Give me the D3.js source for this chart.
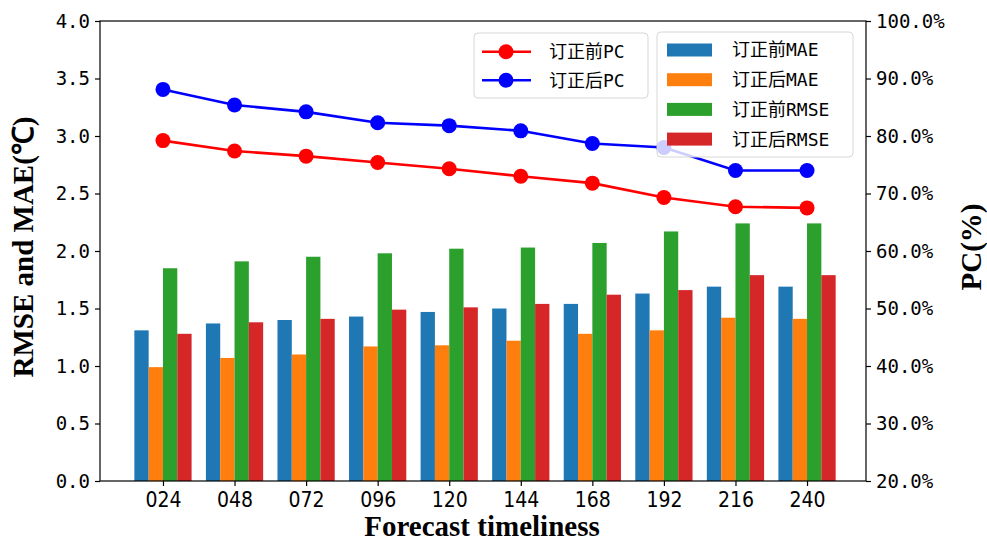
<!DOCTYPE html>
<html>
<head>
<meta charset="utf-8">
<script src="https://cdn.jsdelivr.net/npm/d3@7"></script>
<style>
  body { margin: 0; background: #fff; }
  svg { display: block; }
</style>
</head>
<body>
<div id="chart"></div>
<script>
// Forecast error bars (left axis) + PC lines (right axis)

const leadTimes = ['024', '048', '072', '096', '120', '144', '168', '192', '216', '240'];
const maeBefore = [1.31, 1.37, 1.40, 1.43, 1.47, 1.50, 1.54, 1.63, 1.69, 1.69];
const maeAfter = [0.99, 1.07, 1.10, 1.17, 1.18, 1.22, 1.28, 1.31, 1.42, 1.41];
const rmseBefore = [1.85, 1.91, 1.95, 1.98, 2.02, 2.03, 2.07, 2.17, 2.24, 2.24];
const rmseAfter = [1.28, 1.38, 1.41, 1.49, 1.51, 1.54, 1.62, 1.66, 1.79, 1.79];
const pcBefore = [79.2, 77.4, 76.5, 75.4, 74.3, 73.0, 71.8, 69.3, 67.7, 67.5];
const pcAfter = [88.1, 85.4, 84.2, 82.3, 81.8, 80.9, 78.7, 78.0, 74.0, 74.0];

const leftTicks = [0, 0.5, 1, 1.5, 2, 2.5, 3, 3.5, 4];
const rightTicks = [20, 30, 40, 50, 60, 70, 80, 90, 100];

const barSeries = [
    { name: '订正前MAE', values: maeBefore, color: '#1f77b4' },
    { name: '订正后MAE', values: maeAfter, color: '#ff7f0e' },
    { name: '订正前RMSE', values: rmseBefore, color: '#2ca02c' },
    { name: '订正后RMSE', values: rmseAfter, color: '#d62728' }
];
const lineSeries = [
    { name: '订正前PC', values: pcBefore, color: '#ff0000' },
    { name: '订正后PC', values: pcAfter, color: '#0000ff' }
];

const W = 987, H = 544;
const plot = { left: 100, right: 866, top: 21, bottom: 481 };
const tickFont = '"DejaVu Sans Mono", "Noto Sans CJK SC", monospace';
const titleFont = '"Liberation Serif", "Times New Roman", serif';

const svg = d3.select('#chart').append('svg')
    .attr('width', W)
    .attr('height', H);

// scales
const x = d3.scaleLinear().domain([-0.88, 9.824]).range([plot.left, plot.right]);
const yL = d3.scaleLinear().domain([0, 4]).range([plot.bottom, plot.top]);
const yR = d3.scaleLinear().domain([20, 100]).range([plot.bottom, plot.top]);

const barW = x(0.2) - x(0);
const offsets = [-0.3, -0.1, 0.1, 0.3];

// bars
barSeries.forEach((s, k) => {
    svg.append('g')
        .attr('fill', s.color)
        .selectAll('rect')
        .data(s.values)
        .enter()
        .append('rect')
        .attr('x', (d, i) => x(i + offsets[k]) - barW / 2)
        .attr('y', d => yL(d))
        .attr('width', barW)
        .attr('height', d => yL(0) - yL(d));
});

// lines
const line = d3.line()
    .x((d, i) => x(i))
    .y(d => yR(d));

lineSeries.forEach(s => {
    svg.append('path')
        .datum(s.values)
        .attr('fill', 'none')
        .attr('stroke', s.color)
        .attr('stroke-width', 2.6)
        .attr('d', line);
    svg.append('g')
        .selectAll('circle')
        .data(s.values)
        .enter()
        .append('circle')
        .attr('cx', (d, i) => x(i))
        .attr('cy', d => yR(d))
        .attr('r', 7.5)
        .attr('fill', s.color);
});

// axes
const leftAxis = svg.append('g')
    .attr('transform', `translate(${plot.left},0)`)
    .call(d3.axisLeft(yL).tickValues(leftTicks).tickFormat(d3.format('.1f')).tickSize(5).tickPadding(5));

const rightAxis = svg.append('g')
    .attr('transform', `translate(${plot.right},0)`)
    .call(d3.axisRight(yR).tickValues(rightTicks).tickFormat(d => d3.format('.1f')(d) + '%').tickSize(5).tickPadding(5));

const bottomAxis = svg.append('g')
    .attr('transform', `translate(0,${plot.bottom})`)
    .call(d3.axisBottom(x).tickValues(d3.range(leadTimes.length)).tickFormat(i => leadTimes[i]).tickSize(5).tickPadding(6));

[leftAxis, rightAxis, bottomAxis].forEach(a => {
    a.select('.domain').remove();
    a.selectAll('.tick line').attr('stroke', '#000').attr('stroke-width', 1.2);
});
leftAxis.selectAll('text').style('font-family', tickFont).style('font-size', '19px').attr('fill', '#000');
rightAxis.selectAll('text').style('font-family', tickFont).style('font-size', '19px').attr('fill', '#000');
bottomAxis.selectAll('text')
    .style('font-family', '"Liberation Sans Narrow", "DejaVu Sans Condensed", sans-serif')
    .style('font-size', '21px')
    .attr('fill', '#000');

// frame
svg.append('rect')
    .attr('x', plot.left)
    .attr('y', plot.top)
    .attr('width', plot.right - plot.left)
    .attr('height', plot.bottom - plot.top)
    .attr('fill', 'none')
    .attr('stroke', '#000')
    .attr('stroke-width', 1.2);

// axis titles
svg.append('text')
    .attr('x', (plot.left + plot.right) / 2 - 1)
    .attr('y', 536)
    .attr('text-anchor', 'middle')
    .style('font-family', titleFont)
    .style('font-weight', 'bold')
    .style('font-size', '29px')
    .text('Forecast timeliness');

svg.append('text')
    .attr('transform', `translate(33,247) rotate(-90)`)
    .attr('text-anchor', 'middle')
    .style('font-family', titleFont)
    .style('font-weight', 'bold')
    .style('font-size', '29px')
    .text('RMSE and MAE(℃)');

svg.append('text')
    .attr('transform', `translate(981,247) rotate(-90)`)
    .attr('text-anchor', 'middle')
    .style('font-family', titleFont)
    .style('font-weight', 'bold')
    .style('font-size', '29px')
    .text('PC(%)');

// legend for lines
const leg1 = svg.append('g');
leg1.append('rect')
    .attr('x', 474).attr('y', 33)
    .attr('width', 174).attr('height', 65)
    .attr('rx', 4)
    .attr('fill', 'rgba(255,255,255,0.8)')
    .attr('stroke', '#d6d6d6');
lineSeries.forEach((s, i) => {
    const cy = 51.7 + i * 28.5;
    leg1.append('line')
        .attr('x1', 482).attr('x2', 531)
        .attr('y1', cy).attr('y2', cy)
        .attr('stroke', s.color)
        .attr('stroke-width', 2.6);
    leg1.append('circle')
        .attr('cx', 506).attr('cy', cy).attr('r', 7.5)
        .attr('fill', s.color);
    leg1.append('text')
        .attr('x', 549).attr('y', cy)
        .attr('dy', '0.36em')
        .style('font-family', tickFont)
        .style('font-size', '18px')
        .text(s.name);
});

// legend for bars
const leg2 = svg.append('g');
leg2.append('rect')
    .attr('x', 657).attr('y', 32)
    .attr('width', 196).attr('height', 125)
    .attr('rx', 4)
    .attr('fill', 'rgba(255,255,255,0.8)')
    .attr('stroke', '#d6d6d6');
barSeries.forEach((s, i) => {
    const cy = 50 + i * 29.7;
    leg2.append('rect')
        .attr('x', 667).attr('y', cy - 6.5)
        .attr('width', 45).attr('height', 13)
        .attr('fill', s.color);
    leg2.append('text')
        .attr('x', 732).attr('y', cy)
        .attr('dy', '0.36em')
        .style('font-family', tickFont)
        .style('font-size', '18px')
        .text(s.name);
});
</script>
</body>
</html>
